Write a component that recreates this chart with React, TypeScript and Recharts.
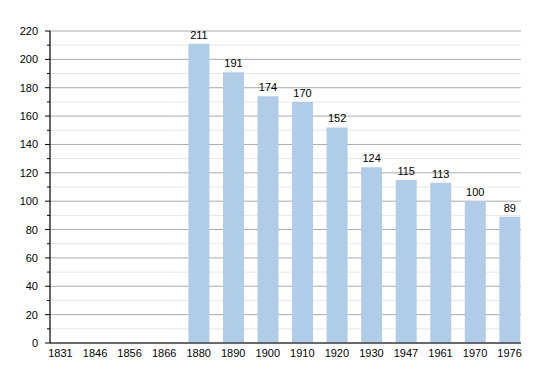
import React from 'react';
import { BarChart, Bar, XAxis, YAxis, CartesianGrid, LabelList } from 'recharts';

// Recensements (années) et population
const years = ['1831', '1846', '1856', '1866', '1880', '1890', '1900', '1910', '1920', '1930', '1947', '1961', '1970', '1976'];
const population: (number | null)[] = [null, null, null, null, 211, 191, 174, 170, 152, 124, 115, 113, 100, 89];
const yTicks = [0, 10, 20, 30, 40, 50, 60, 70, 80, 90, 100, 110, 120, 130, 140, 150, 160, 170, 180, 190, 200, 210, 220];

const data = years.map((y, i) => ({ idx: i, year: y, pop: population[i] }));
const xTicks = years.map((_, i) => i);

const FONT = '"Liberation Sans", Arial, sans-serif';

const YTick = ({ x, y, payload }: any) => {
  const major = payload.value % 20 === 0;
  return (
    <g>
      <line x1={x - (major ? 5 : 3)} x2={x} y1={y} y2={y} stroke="#000" strokeWidth={1} />
      {major && (
        <text x={x - 12} y={y + 4} textAnchor="end" fontSize={11} fontFamily={FONT} fill="#000">
          {payload.value}
        </text>
      )}
    </g>
  );
};

const XTick = ({ x, y, payload }: any) => (
  <text x={x} y={y + 14} textAnchor="middle" fontSize={11} fontFamily={FONT} fill="#000">
    {years[payload.value]}
  </text>
);

const gridLine = (props: any) => (
  <line
    key={props.key}
    x1={props.x1}
    x2={props.x2}
    y1={props.y1}
    y2={props.y2}
    stroke={props.index % 2 === 0 ? '#aaaaaa' : '#e6e6e6'}
    strokeWidth={1}
  />
);

export default function App() {
  return (
    <div style={{ position: 'absolute', left: 0, top: 0, background: '#fff' }}>
      <BarChart width={550} height={373} data={data} margin={{ top: 31, right: 29, left: 0, bottom: 0 }}>
        <CartesianGrid vertical={false} horizontal={gridLine} />
        <XAxis
          dataKey="idx"
          type="number"
          domain={[-0.304, 13.33]}
          ticks={xTicks}
          interval={0}
          height={30}
          tickSize={0}
          tickMargin={0}
          tick={<XTick />}
          axisLine={{ stroke: '#000', strokeWidth: 1.2 }}
          allowDataOverflow
        />
        <YAxis
          domain={[0, 220]}
          ticks={yTicks}
          interval={0}
          width={50}
          tickSize={0}
          tickMargin={0}
          tickLine={false}
          tick={<YTick />}
          axisLine={{ stroke: '#000', strokeWidth: 1.2 }}
        />
        <Bar dataKey="pop" fill="#b1cce6" barSize={21} isAnimationActive={false}>
          <LabelList
            dataKey="pop"
            position="top"
            offset={5}
            fontSize={11}
            fontFamily={FONT}
            fill="#000"
            formatter={(v: any) => (v == null ? '' : v)}
          />
        </Bar>
      </BarChart>
    </div>
  );
}
